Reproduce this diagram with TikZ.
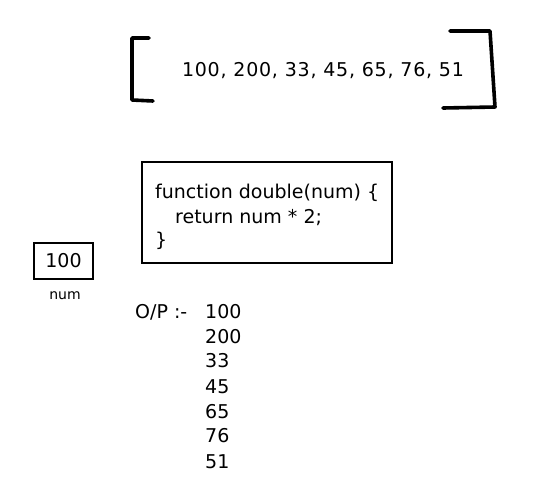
\documentclass[tikz,border=0pt]{standalone}
\usepackage{fontspec}
\setmainfont{DejaVu Sans}
\begin{document}
\begin{tikzpicture}[x=1pt,y=-1pt,
  bracket/.style={line width=3.6pt, line cap=round, line join=round, draw=black},
  box/.style={draw=black, line width=1.1pt, inner sep=0pt},
  txt/.style={font=\fontsize{19}{22}\selectfont, inner sep=0pt, anchor=base west},
  arr/.style={font=\fontsize{19}{22}\selectfont\addfontfeatures{LetterSpace=4}, inner sep=0pt, anchor=base}]
\useasboundingbox (0,0) rectangle (534,498);
% array brackets
\coordinate (l1) at (149,38);
\coordinate (l2) at (132,38);
\coordinate (l3) at (132,100);
\coordinate (l4) at (153,101);
\draw[bracket] (l1) -- (l2) -- (l3) -- (l4);
\coordinate (r1) at (450,31);
\coordinate (r2) at (490,31);
\coordinate (r3) at (495,107);
\coordinate (r4) at (443,108);
\draw[bracket] (r1) -- (r2) -- (r3) -- (r4);
\node[arr] (array) at (323,76) {100, 200, 33, 45, 65, 76, 51};
% function box
\node[box, minimum width=250pt, minimum height=101pt] (code) at (267,212.5) {};
\node[txt] (c1) at (155,198) {function double(num) \{};
\node[txt] (c2) at (175,223) {return num * 2;};
\node[txt] (c3) at (155,246) {\}};
% num box
\node[box, minimum width=59pt, minimum height=36pt] (numbox) at (63.5,261) {};
\node[font=\fontsize{19}{22}\selectfont, inner sep=0pt] (numval) at (numbox.center) {100};
\node[font=\fontsize{14}{16}\selectfont, inner sep=0pt, anchor=base] (numlbl) at (65,299) {num};
% output
\node[txt] (op) at (135,318) {O/P :-};
\node[txt] (o1) at (205,318) {100};
\node[txt] (o2) at (205,343) {200};
\node[txt] (o3) at (205,367) {33};
\node[txt] (o4) at (205,393) {45};
\node[txt] (o5) at (205,418) {65};
\node[txt] (o6) at (205,442) {76};
\node[txt] (o7) at (205,468) {51};
\end{tikzpicture}
\end{document}
